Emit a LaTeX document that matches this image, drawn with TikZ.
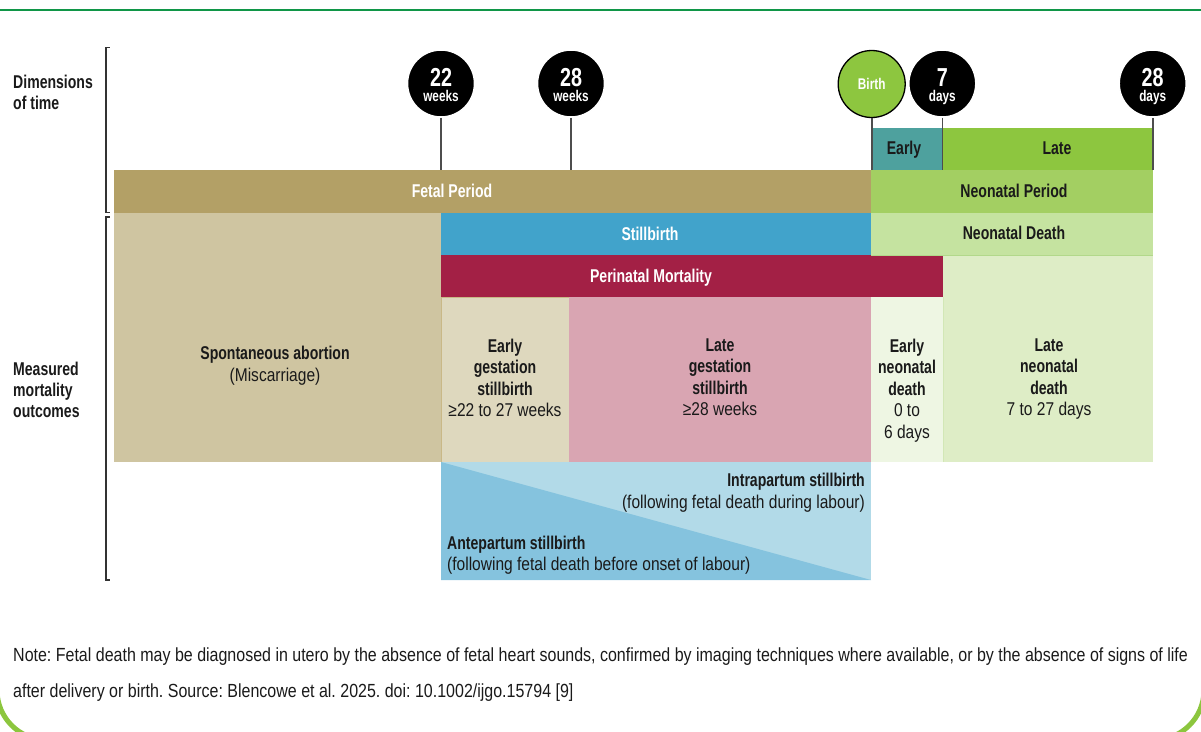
\documentclass[tikz,border=0pt]{standalone}
\usepackage{fontspec}
\setmainfont{Liberation Sans}[UprightFeatures={FakeStretch=0.84},BoldFeatures={FakeStretch=0.76}]
\newfontfamily\notefont{Liberation Sans}[FakeStretch=0.842]
\frenchspacing
\definecolor{topgreen}{RGB}{16,150,72}
\definecolor{framegreen}{RGB}{140,198,62}
\definecolor{fetalc}{HTML}{B3A066}
\definecolor{spontc}{HTML}{CFC5A1}
\definecolor{earlygestc}{HTML}{DED8BE}
\definecolor{earlygestline}{HTML}{C9B887}
\definecolor{lategestc}{HTML}{D9A5B2}
\definecolor{peric}{HTML}{A32045}
\definecolor{stillc}{HTML}{41A3CB}
\definecolor{neoperc}{HTML}{A3CF62}
\definecolor{neodeathc}{HTML}{C5E3A0}
\definecolor{neodeathline}{HTML}{B2D88A}
\definecolor{lateneoc}{HTML}{DEEDC6}
\definecolor{earlyneoc}{HTML}{EEF6E3}
\definecolor{earlyneoline}{HTML}{D2E7B6}
\definecolor{earlyc}{HTML}{4EA19E}
\definecolor{latec}{HTML}{8DC63F}
\definecolor{birthc}{HTML}{8DC63F}
\definecolor{intrac}{HTML}{B2DAE8}
\definecolor{antec}{HTML}{85C3DE}
\definecolor{tickc}{HTML}{4D4D4D}
\definecolor{inkc}{HTML}{1A1A1A}
\begin{document}
\begin{tikzpicture}[x=1pt,y=-1pt,
  box/.style={anchor=north west,inner sep=0pt,outer sep=0pt,draw=none},
  circ/.style={circle,fill=black,draw=white,line width=1.5pt,minimum size=67pt,inner sep=0pt},
  tickline/.style={draw=tickc,line width=1.6pt},
  bracket/.style={draw=black!80,line width=1.1pt},
  barlbl/.style={anchor=base,inner sep=0pt,text=inkc,font=\fontsize{18.5}{21.5}\selectfont\bfseries},
  ml/.style={anchor=north,inner sep=0pt,align=center,text=inkc,font=\fontsize{18.5}{21.5}\selectfont},
  numtxt/.style={anchor=base,inner sep=0pt,text=white,font=\fontsize{26}{26}\selectfont\bfseries},
  unittxt/.style={anchor=base,inner sep=0pt,text=white,font=\fontsize{15.5}{16}\selectfont\bfseries}]
\useasboundingbox (0,0) rectangle (1201,731);
% frame
\draw[topgreen,line width=2.2pt] (0,10.3) -- (1201,10.3);
\draw[framegreen,line width=5pt,rounded corners=50pt] (-3,0) -- (-3,740) -- (1204,740) -- (1204,0);
% brackets
\draw[bracket] (109.5,47.5) -- (106,47.5) -- (106,212.5) -- (109.5,212.5);
\draw[bracket] (109.5,217) -- (106,217) -- (106,580) -- (109.5,580);
% axis labels
\node[anchor=north west,inner sep=0pt,align=left,text=inkc,font=\fontsize{18.5}{21}\selectfont\bfseries] (dimlbl) at (13,74.8) {Dimensions\\of time};
\node[anchor=north west,inner sep=0pt,align=left,text=inkc,font=\fontsize{18.5}{21.3}\selectfont\bfseries] (measlbl) at (13,361.5) {Measured\\mortality\\outcomes};
% time bars
\node[box,fill=fetalc,minimum width=757pt,minimum height=43pt] (fetal) at (114,170) {};
\node[box,fill=neoperc,minimum width=282pt,minimum height=43pt] (neoper) at (871,170) {};
\node[box,fill=earlyc,minimum width=72pt,minimum height=42pt] (early) at (871,128) {};
\node[box,fill=latec,minimum width=210pt,minimum height=42pt] (late) at (943,128) {};
% outcome boxes
\node[box,fill=spontc,minimum width=327pt,minimum height=249pt] (spont) at (114,213) {};
\node[box,fill=stillc,minimum width=430pt,minimum height=42pt] (still) at (441,213) {};
\node[box,fill=neodeathc,minimum width=282pt,minimum height=42pt] (neodeath) at (871,213) {};
\node[box,fill=lateneoc,minimum width=210pt,minimum height=207pt] (lateneo) at (943,255) {};
\node[box,fill=peric,minimum width=502pt,minimum height=42pt] (peri) at (441,255) {};
\node[box,fill=earlygestc,draw=earlygestline,line width=0.8pt,minimum width=128pt,minimum height=165pt] (earlygest) at (441,297) {};
\node[box,fill=lategestc,minimum width=302pt,minimum height=165pt] (lategest) at (569,297) {};
\node[box,fill=earlyneoc,minimum width=72pt,minimum height=165pt] (earlyneo) at (871,297) {};
\draw[earlyneoline,line width=0.8pt] (earlyneo.north east) -- (earlyneo.south east);
\draw[neodeathline,line width=0.8pt] (neodeath.south west) -- (neodeath.south east);
\node[box,fill=intrac,minimum width=430pt,minimum height=118pt] (partum) at (441,462) {};
\fill[antec] (partum.north west) -- (partum.south west) -- (partum.south east) -- cycle;
% circles
\node[circ] (c22) at (441,83.5) {};
\node[circ] (c28) at (571,83.5) {};
\node[circ,fill=birthc,draw=black,line width=1.3pt] (cbirth) at (871.7,84) {};
\node[circ] (c7) at (942.3,83.5) {};
\node[circ] (c28d) at (1152.7,83.5) {};
\node[numtxt] at (441,86) {22};
\node[unittxt] at (441,101.5) {weeks};
\node[numtxt] at (571,86) {28};
\node[unittxt] at (571,101.5) {weeks};
\node[unittxt] at (871.7,89) {Birth};
\node[numtxt] at (942.3,86) {7};
\node[unittxt] at (942.3,101.5) {days};
\node[numtxt] at (1152.7,86) {28};
\node[unittxt] at (1152.7,101.5) {days};
% connectors
\draw[tickline] (c22) -- (c22 |- fetal.north);
\draw[tickline] (c28) -- (c28 |- fetal.north);
\draw[tickline] (cbirth) -- (cbirth |- fetal.north);
\draw[tickline] (c7) -- (c7 |- fetal.north);
\draw[tickline] (c28d) -- (c28d |- fetal.north);
% bar labels
\node[barlbl,text=white] at (452,197) {Fetal Period};
\node[barlbl] at (1014,197) {Neonatal Period};
\node[barlbl] at (904,154) {Early};
\node[barlbl] at (1057,154) {Late};
\node[barlbl,text=white] at (650,240) {Stillbirth};
\node[barlbl,text=white] at (651,282) {Perinatal Mortality};
\node[barlbl] at (1014,239) {Neonatal Death};
% box texts
\node[ml,font=\fontsize{18.5}{22}\selectfont] at (275,346) {\textbf{Spontaneous abortion}\\(Miscarriage)};
\node[ml] at (505,338.5) {\textbf{Early}\\\textbf{gestation}\\\textbf{stillbirth}\\≥22 to 27 weeks};
\node[ml] at (720,338.5) {\textbf{Late}\\\textbf{gestation}\\\textbf{stillbirth}\\≥28 weeks};
\node[ml] at (907,338.5) {\textbf{Early}\\\textbf{neonatal}\\\textbf{death}\\0 to\\6 days};
\node[ml] at (1049,338.5) {\textbf{Late}\\\textbf{neonatal}\\\textbf{death}\\7 to 27 days};
\node[ml,anchor=north east,align=right,font=\fontsize{18.5}{22}\selectfont] at (865,472.5) {\textbf{Intrapartum stillbirth}\\(following fetal death during labour)};
\node[ml,anchor=north west,align=left,font=\fontsize{18.5}{21.7}\selectfont] at (447,535.5) {\textbf{Antepartum stillbirth}\\(following fetal death before onset of labour)};
% note
\node[anchor=north west,inner sep=0pt,align=left,text=inkc,font=\notefont\fontsize{19}{36}\selectfont] (note) at (13,648) {Note: Fetal death may be diagnosed in utero by the absence of fetal heart sounds, confirmed by imaging techniques where available, or by the absence of signs of life\\after delivery or birth. Source: Blencowe et al. 2025. doi: 10.1002/ijgo.15794 [9]};
\end{tikzpicture}
\end{document}
